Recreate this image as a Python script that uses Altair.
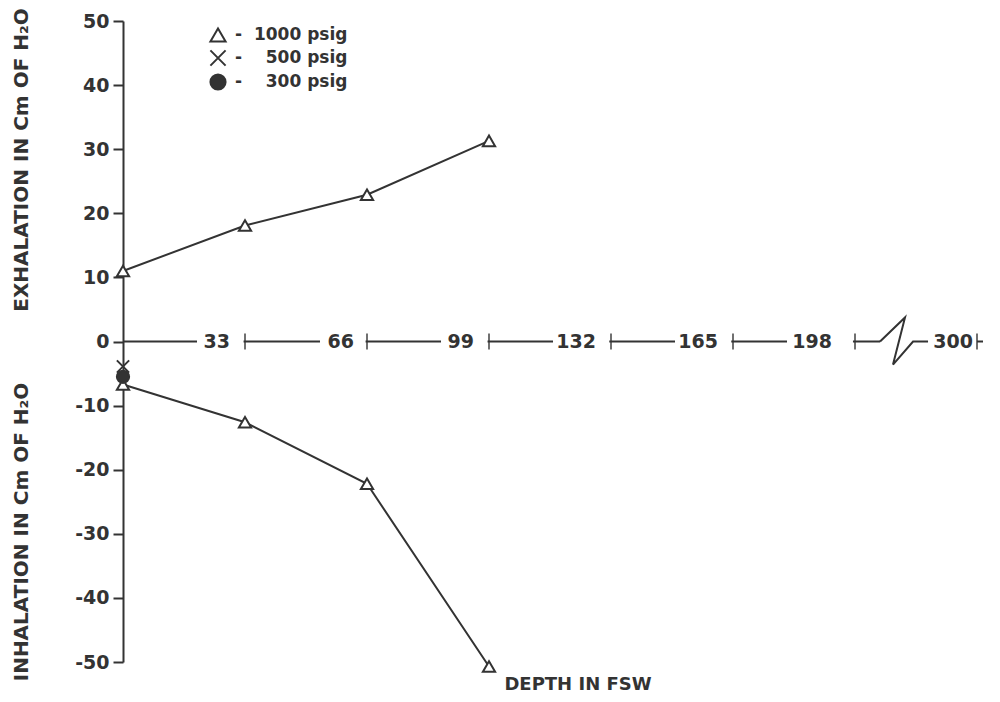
import altair as alt
import pandas as pd

INK = "#333333"
FONT = "DejaVu Sans"

# ---- data ----
depth = [0, 33, 66, 99]
exhalation_1000 = [11.0, 18.1, 22.9, 31.3]
inhalation_1000 = [-6.7, -12.6, -22.2, -50.7]
depth_500 = [0]
inhalation_500 = [-3.9]
depth_300 = [0]
inhalation_300 = [-5.5]

series_order = ["1000 psig", "500 psig", "300 psig"]

tick_values = [33, 66, 99, 132, 165, 198, 300]
tick_labels = ["33", "66", "99", "132", "165", "198", "300"]
y_ticks = [-50, -40, -30, -20, -10, 0, 10, 20, 30, 40, 50]

break_at = [239]          # scale break between 198 and 300
axis_pieces_from = [0, 300]
axis_pieces_to = [219, 305]

# ---- styling (pixels) ----
label_dx = [-15, -13, -15, -15, -15, -23, -4]
gap_px = [48, 47, 48, 58, 58, 68, 0]

XPATH = "M-1,-1L1,1M1,-1L-1,1"
ZIGZAG = "M-1,0L0.04,-1L-0.46,0.96L0.375,0L1,0"
MASK = "M-1,-0.22H-0.03V0.22H-1Z"

xscale = alt.Scale(domain=[0, 198, 305], range=[0, 732, 860], nice=False, zero=False)
yscale = alt.Scale(domain=[-50, 50], nice=False, zero=False)
yaxis = alt.Axis(
    values=y_ticks, grid=False, orient="left", tickSize=10, tickWidth=2,
    tickColor=INK, domainColor=INK, domainWidth=2, labelFont=FONT,
    labelFontSize=19, labelFontWeight="bold", labelColor=INK, labelPadding=4,
    title=None,
    labelExpr="datum.value < 0 ? '-' + abs(datum.value) : '' + datum.value",
)
X = alt.X("depth:Q", scale=xscale, axis=None)
Y = alt.Y("value:Q", scale=yscale, axis=yaxis)

# lines
rows = []
for d, v in zip(depth, exhalation_1000):
    rows.append({"depth": d, "value": v, "branch": "exh"})
for d, v in zip(depth, inhalation_1000):
    rows.append({"depth": d, "value": v, "branch": "inh"})
df_lines = pd.DataFrame(rows)

pts = []
for d, v in zip(depth, exhalation_1000):
    pts.append({"depth": d, "value": v, "psig": "1000 psig"})
for d, v in zip(depth, inhalation_1000):
    pts.append({"depth": d, "value": v, "psig": "1000 psig"})
for d, v in zip(depth_500, inhalation_500):
    pts.append({"depth": d, "value": v, "psig": "500 psig"})
for d, v in zip(depth_300, inhalation_300):
    pts.append({"depth": d, "value": v, "psig": "300 psig"})
df_pts = pd.DataFrame(pts)

df_ticks = pd.DataFrame({"depth": tick_values, "label": tick_labels,
                         "dx": label_dx, "sz": [(2 * g) ** 2 for g in gap_px]})
df_axis = pd.DataFrame({"depth": axis_pieces_from, "depth2": axis_pieces_to})
df_break = pd.DataFrame({"depth": break_at})

axis_line = alt.Chart(df_axis).mark_rule(color=INK, strokeWidth=2).encode(
    x=X, x2="depth2:Q", y=alt.datum(0))

masks = alt.Chart(df_ticks).transform_filter("datum.sz > 0").mark_point(
    shape=MASK, filled=True, fill="white", opacity=1, strokeWidth=0).encode(
    x=X, y=alt.datum(0), size=alt.Size("sz:Q", scale=None))

label_layers = []
for dxv in sorted(set(label_dx)):
    label_layers.append(
        alt.Chart(df_ticks).transform_filter(f"datum.dx == {dxv}").mark_text(
            align="right", baseline="middle", dx=dxv, font=FONT, fontSize=19,
            fontWeight="bold", color=INK).encode(x=X, y=alt.datum(0), text="label:N"))

ticks = alt.Chart(df_ticks).mark_tick(orient="vertical", size=16, thickness=2,
                                      color=INK).encode(x=X, y=alt.datum(0))

zig = alt.Chart(df_break).mark_point(shape=ZIGZAG, filled=False, stroke=INK,
                                     strokeWidth=2, size=2304, opacity=1).encode(
    x=X, y=alt.datum(0))

lines = alt.Chart(df_lines).mark_line(color=INK, strokeWidth=2).encode(
    x=X, y=Y, detail="branch:N")

legend = alt.Legend(
    title=None, orient="none", legendX=86, legendY=5, direction="vertical",
    labelFont=FONT, labelFontSize=17, labelFontWeight="bold", labelColor=INK,
    symbolSize=230, symbolStrokeWidth=2, rowPadding=0, labelOffset=8,
    labelExpr="'-\u00a0\u00a0' + (datum.label == '1000 psig' ? '' : '\u2007') + datum.label",
)
points = alt.Chart(df_pts).mark_point(filled=True, strokeWidth=2,
                                      opacity=1, size=150).encode(
    x=X, y=Y,
    shape=alt.Shape("psig:N", scale=alt.Scale(domain=series_order,
                    range=["triangle-up", XPATH, "circle"]), legend=legend),
    fill=alt.Fill("psig:N", scale=alt.Scale(domain=series_order,
                  range=["white", "white", INK]), legend=legend),
    stroke=alt.Stroke("psig:N", scale=alt.Scale(domain=series_order,
                      range=[INK, INK, INK]), legend=legend),
)

def title_text(txt, px, py, angle, size):
    return alt.Chart(pd.DataFrame({"t": [txt]})).mark_text(
        angle=angle, font=FONT, fontSize=size, fontWeight="bold", color=INK,
        align="center", baseline="middle").encode(
        text="t:N", x=alt.value(px), y=alt.value(py))

t_up = title_text("EXHALATION IN Cm OF H\u2082O", -101, 139, 270, 20)
t_low = title_text("INHALATION IN Cm OF H\u2082O", -101, 511, 270, 20)
t_x = title_text("DEPTH IN FSW", 455, 664, 0, 18)

chart = alt.layer(
    axis_line, masks, *label_layers, ticks, zig, lines, points, t_up, t_low, t_x
).properties(
    width=860, height=641,
    padding={"left": 115, "top": 13, "right": 9, "bottom": 31},
    autosize=alt.AutoSizeParams(type="none"),
    background="white",
).configure_view(strokeWidth=0)

chart.save("out.html", embed_options={"renderer": "svg", "actions": False})
